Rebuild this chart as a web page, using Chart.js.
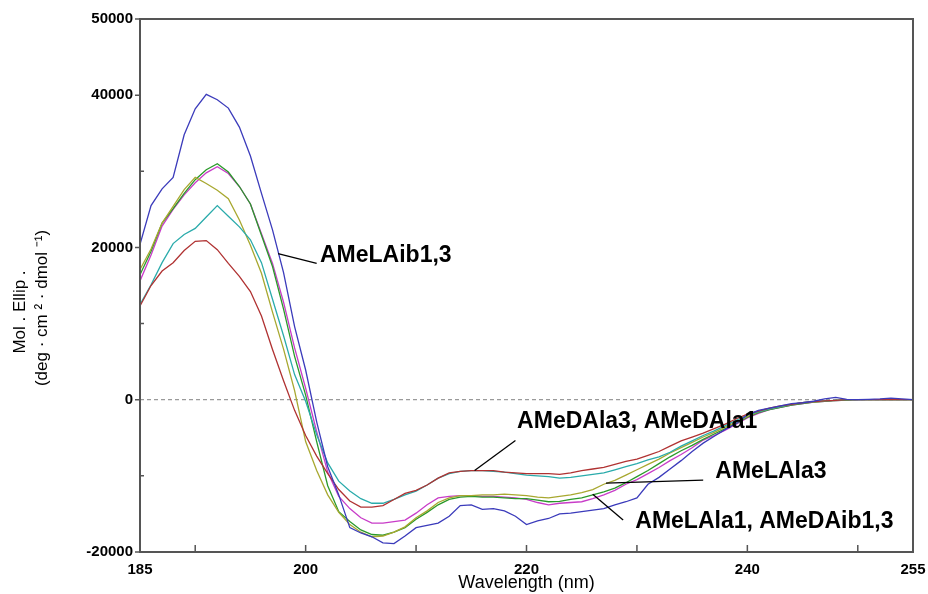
<!DOCTYPE html>
<html>
<head>
<meta charset="utf-8">
<script src="https://cdn.jsdelivr.net/npm/chart.js@4.4.1/dist/chart.umd.min.js"></script>
<style>
  html, body { margin: 0; padding: 0; background: #fff; }
  #box { width: 928px; height: 594px; position: relative; }
</style>
</head>
<body>
<div id="box"><canvas id="grafico"></canvas></div>
<script>
// Comprimentos de onda (nm)
const wavelengths = [
  185, 186, 187, 188, 189, 190, 191, 192, 193, 194,
  195, 196, 197, 198, 199, 200, 201, 202, 203, 204,
  205, 206, 207, 208, 209, 210, 211, 212, 213, 214,
  215, 216, 217, 218, 219, 220, 221, 222, 223, 224,
  225, 226, 227, 228, 229, 230, 231, 232, 233, 234,
  235, 236, 237, 238, 239, 240, 241, 242, 243, 244,
  245, 246, 247, 248, 249, 250, 251, 252, 253, 254, 255
];

// Mol. Ellip. de cada amostra
const aMeLAib13 = [
  20400, 25500, 27700, 29200, 34800, 38200, 40100, 39400, 38300, 35800,
  32000, 27100, 22300, 16700, 9600, 3900, -2900, -8800, -12500, -16800,
  -17500, -18000, -18800, -18900, -17900, -16800, -16500, -16200, -15300, -13900,
  -13800, -14400, -14300, -14600, -15300, -16400, -15900, -15600, -15000, -14900,
  -14700, -14500, -14300, -13800, -13400, -12900, -11100, -10200, -9100, -8000,
  -6800, -5700, -4800, -3900, -3100, -2000, -1400, -1100, -800, -500,
  -400, -200, 100, 300, 50, 0, 50, 100, 200, 100, 0
];
const aMeDAla3 = [
  12300, 15000, 16900, 18000, 19600, 20800, 20900, 19700, 17900, 16200,
  14200, 11000, 6600, 2500, -1400, -4700, -7400, -9700, -11800, -13300,
  -14100, -14100, -13900, -13100, -12300, -11900, -11200, -10300, -9600, -9400,
  -9300, -9300, -9300, -9500, -9600, -9700, -9700, -9700, -9800, -9600,
  -9300, -9100, -8900, -8500, -8100, -7800, -7300, -6800, -6100, -5400,
  -4900, -4400, -3800, -3200, -2500, -1900, -1500, -1100, -800, -600,
  -400, -250, -150, -100, 0, 0, 0, 0, 0, 0, 0
];
const aMeDAla1 = [
  12500, 15100, 18000, 20500, 21700, 22500, 24000, 25500, 24100, 22700,
  21000, 18000, 13200, 8400, 3300, -200, -4600, -8300, -10700, -12000,
  -13000, -13600, -13600, -13100, -12500, -12000, -11200, -10300, -9700, -9400,
  -9300, -9300, -9400, -9500, -9700, -9900, -10000, -10100, -10300, -10200,
  -10000, -9800, -9600, -9200, -8800, -8400, -7900, -7500, -6900, -6100,
  -5400, -4700, -4100, -3400, -2700, -2000, -1600, -1200, -900, -600,
  -400, -250, -150, -100, 0, 0, 0, 0, 0, 0, 0
];
const aMeLAla3 = [
  17100, 19800, 23200, 25400, 27600, 29200, 28400, 27500, 26400, 23600,
  20300, 16600, 11500, 6650, 1200, -5500, -9300, -12500, -14800, -16400,
  -17400, -18000, -17900, -17400, -16700, -15500, -14600, -13500, -12900, -12600,
  -12600, -12500, -12500, -12400, -12500, -12600, -12800, -12900, -12700, -12500,
  -12200, -11800, -11100, -10600, -9900, -9200, -8500, -7800, -7000, -6300,
  -5600, -4900, -4300, -3600, -2900, -2200, -1600, -1200, -900, -600,
  -400, -300, -150, -100, 0, 0, 0, 0, 0, 0, 0
];
const aMeLAla1 = [
  16400, 19500, 23200, 25100, 27100, 28900, 30200, 31000, 29900, 28000,
  25700, 21600, 17500, 11900, 5700, 600, -5500, -11300, -14700, -16000,
  -17100, -17700, -17800, -17400, -16800, -15700, -14800, -13800, -13100, -12800,
  -12700, -12800, -12800, -12900, -13000, -13000, -13200, -13400, -13350, -13100,
  -12900, -12500, -12100, -11600, -10900, -10100, -9300, -8400, -7500, -6700,
  -6000, -5200, -4500, -3800, -3100, -2300, -1700, -1300, -1000, -700,
  -500, -300, -200, -100, -50, 0, 0, 0, 0, 0, 0
];
const aMeDAib13 = [
  15600, 19000, 22800, 25000, 26900, 28500, 29800, 30600, 29700, 28000,
  25700, 21800, 17900, 12800, 6800, 1500, -4200, -9500, -12700, -14300,
  -15500, -16200, -16200, -16000, -15800, -14900, -13800, -12900, -12700, -12600,
  -12600, -12700, -12700, -12800, -12900, -13100, -13500, -13800, -13600, -13500,
  -13400, -13000, -12500, -11900, -11100, -10500, -9700, -8900, -8000, -7200,
  -6300, -5300, -4700, -4000, -3200, -2400, -1800, -1300, -1000, -700,
  -500, -300, -200, -100, -50, 0, 0, 0, 0, 0, 0
];

// Ticks dos eixos
const xTicks = [185, 190, 200, 210, 220, 230, 240, 250, 255];
const xTickLabels = [185, 200, 220, 240, 255];
const yTickLabels = [50000, 40000, 20000, 0, -20000];

// Rótulos com linha de chamada (em unidades de dados)
const rotulos = [
  { texto: "AMeLAib1,3", de: [197.5, 19200], ate: [201.0, 17900], pos: [201.3, 18900] },
  { texto: "AMeDAla3, AMeDAla1", de: [215.3, -9300], ate: [219.0, -5350], pos: [219.15, -2870] },
  { texto: "AMeLAla3", de: [227.2, -10950], ate: [236.0, -10570], pos: [237.1, -9400] },
  { texto: "AMeLAla1, AMeDAib1,3", de: [226.0, -12400], ate: [228.75, -15790], pos: [229.85, -15950] }
];

function serie(nome, valores, cor) {
  return {
    label: nome,
    data: valores.map((v, i) => ({ x: wavelengths[i], y: v })),
    borderColor: cor,
    borderWidth: 1.3,
    pointRadius: 0,
    tension: 0,
    fill: false
  };
}

// Moldura, linha do zero, marcas dos ticks, título Y e rótulos
const extras = {
  id: 'extras',
  beforeDatasetsDraw(chart) {
    const { ctx, chartArea: a, scales: { y } } = chart;
    ctx.save();
    ctx.strokeStyle = '#9a9a9a';
    ctx.lineWidth = 1.2;
    ctx.setLineDash([4, 3]);
    const y0 = y.getPixelForValue(0);
    ctx.beginPath(); ctx.moveTo(a.left, y0); ctx.lineTo(a.right, y0); ctx.stroke();
    ctx.restore();
  },
  afterDatasetsDraw(chart) {
    const { ctx, chartArea: a, scales: { x, y } } = chart;
    ctx.save();
    // moldura
    ctx.strokeStyle = '#555';
    ctx.lineWidth = 2;
    ctx.strokeRect(a.left, a.top, a.right - a.left, a.bottom - a.top);
    // marcas
    ctx.lineWidth = 1.5;
    ctx.beginPath();
    for (let v = -20000; v <= 50000; v += 10000) {
      const py = y.getPixelForValue(v);
      if (yTickLabels.includes(v)) { ctx.moveTo(a.left - 5, py); ctx.lineTo(a.left, py); }
      else { ctx.moveTo(a.left, py); ctx.lineTo(a.left + 4, py); }
    }
    xTicks.forEach(t => {
      if (t === 185 || t === 255) return;
      const px = x.getPixelForValue(t);
      ctx.moveTo(px, a.bottom); ctx.lineTo(px, a.bottom - 7);
    });
    ctx.stroke();

    // título do eixo Y
    ctx.fillStyle = '#000';
    ctx.font = '17px "Liberation Sans", Arial, sans-serif';
    ctx.textAlign = 'center';
    ctx.textBaseline = 'middle';
    ctx.save();
    ctx.translate(20, 312); ctx.rotate(-Math.PI / 2);
    ctx.fillText('Mol . Ellip .', 0, 0);
    ctx.restore();
    ctx.save();
    ctx.translate(42, 308); ctx.rotate(-Math.PI / 2);
    ctx.fillText('(deg · cm ² · dmol ⁻¹)', 0, 0);
    ctx.restore();

    // rótulos
    ctx.strokeStyle = '#000';
    ctx.lineWidth = 1.3;
    ctx.font = 'bold 23px "Liberation Sans", Arial, sans-serif';
    ctx.textAlign = 'left';
    rotulos.forEach(r => {
      ctx.beginPath();
      ctx.moveTo(x.getPixelForValue(r.de[0]), y.getPixelForValue(r.de[1]));
      ctx.lineTo(x.getPixelForValue(r.ate[0]), y.getPixelForValue(r.ate[1]));
      ctx.stroke();
      ctx.fillText(r.texto, x.getPixelForValue(r.pos[0]), y.getPixelForValue(r.pos[1]));
    });
    ctx.restore();
  }
};

const fonteTick = { family: '"Liberation Sans", Arial, sans-serif', size: 15, weight: 'bold' };

new Chart(document.getElementById('grafico'), {
  type: 'line',
  data: {
    datasets: [
      serie('AMeLAib1,3', aMeLAib13, '#3b3bbb'),
      serie('AMeDAla3', aMeDAla3, '#b03232'),
      serie('AMeDAla1', aMeDAla1, '#2aabab'),
      serie('AMeLAla3', aMeLAla3, '#a8a830'),
      serie('AMeLAla1', aMeLAla1, '#2a9a2a'),
      serie('AMeDAib1,3', aMeDAib13, '#c83cc8')
    ]
  },
  options: {
    responsive: true,
    maintainAspectRatio: false,
    animation: false,
    layout: { padding: { top: 19, right: 15, left: 0, bottom: 0 } },
    plugins: { legend: { display: false }, tooltip: { enabled: false } },
    scales: {
      x: {
        type: 'linear',
        min: 185,
        max: 255,
        afterBuildTicks: s => { s.ticks = xTicks.map(v => ({ value: v })); },
        afterFit: s => { s.height = 42; s.paddingLeft = 0; s.paddingRight = 0; },
        grid: { display: false, drawTicks: false },
        border: { display: false },
        ticks: {
          autoSkip: false,
          maxRotation: 0,
          padding: 9,
          color: '#000',
          font: fonteTick,
          callback: v => xTickLabels.includes(v) ? String(v) : ''
        },
        title: {
          display: true,
          text: 'Wavelength (nm)',
          color: '#000',
          padding: 0,
          font: { family: '"Liberation Sans", Arial, sans-serif', size: 18 }
        }
      },
      y: {
        min: -20000,
        max: 50000,
        afterFit: s => { s.width = 140; s.paddingTop = 0; s.paddingBottom = 0; },
        grid: { display: false, drawTicks: false },
        border: { display: false },
        ticks: {
          stepSize: 10000,
          padding: 7,
          color: '#000',
          font: fonteTick,
          callback: v => yTickLabels.includes(v) ? String(v) : ''
        }
      }
    }
  },
  plugins: [extras]
});
</script>
</body>
</html>
